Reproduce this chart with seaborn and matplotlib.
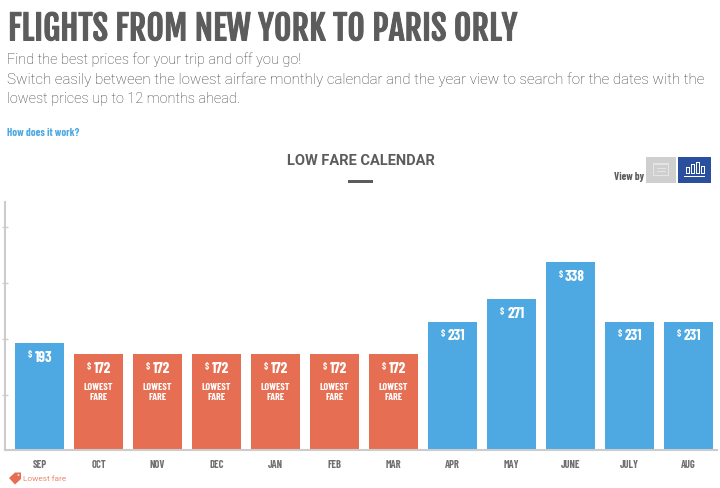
import pandas as pd
import numpy as np
import matplotlib.pyplot as plt
import seaborn as sns
import matplotlib.patheffects as pe
from matplotlib.patches import Rectangle, Polygon, Circle
from matplotlib import font_manager

months = ["SEP", "OCT", "NOV", "DEC", "JAN", "FEB", "MAR", "APR", "MAY", "JUNE", "JULY", "AUG"]
prices = [193, 172, 172, 172, 172, 172, 172, 231, 271, 338, 231, 231]
y_ticks = [100, 200, 300, 400]

title = "FLIGHTS FROM NEW YORK TO PARIS ORLY"
intro = ["Find the best prices for your trip and off you go!",
         "Switch easily between the lowest airfare monthly calendar and the year view to search for the dates with the",
         "lowest prices up to 12 months ahead."]

BLUE = "#4EA9E3"
RED = "#E66F53"
GREY = "#5C5C5C"
W, H = 720, 489

names = {f.name for f in font_manager.fontManager.ttflist}


def pick(options):
    for n in options:
        if n in names:
            return n
    return "Liberation Sans"


head = pick(["Fjalla One", "Barlow Condensed", "Roboto Condensed"])
narrow = pick(["Barlow Condensed", "Roboto Condensed", "Archivo Narrow"])

sns.set_theme(style="white")
plt.rcParams['font.family'] = ['Roboto', 'DejaVu Sans']

df = pd.DataFrame({"month": months, "price": prices})
df["kind"] = np.where(df["price"] == df["price"].min(), "low", "normal")

fig = plt.figure(figsize=(7.2, 4.89), dpi=100)
ax = fig.add_axes([5 / W, 1 - 451.3 / H, 712 / W, 248 / H])
sns.barplot(data=df, x="month", y="price", hue="kind", order=months, dodge=False, width=0.83, saturation=1,
            palette={"low": RED, "normal": BLUE}, legend=False, linewidth=0, ax=ax)

ax.set_xlim(-0.585, 11.48)
ax.set_ylim(0, 445)
ax.set_yticks(y_ticks)
ax.set_yticklabels([])
ax.set_xlabel("")
ax.set_ylabel("")
ax.tick_params(axis="y", left=True, length=5, width=1, color="#d0d0d0", direction="inout")
ax.tick_params(axis="x", length=0, pad=6)
for lab in ax.get_xticklabels():
    lab.set_fontfamily(narrow)
    lab.set_fontsize(7.5)
    lab.set_fontweight("bold")
    lab.set_color("#707070")
sns.despine(ax=ax, top=True, right=True)
for s in ["left", "bottom"]:
    ax.spines[s].set_color("#cccccc")
    ax.spines[s].set_linewidth(1.5)

# labels on the bars
for i, p in enumerate(prices):
    ax.text(i - 0.16, p - 20, "$", color="white", fontsize=7, fontweight="bold", family=narrow, ha="center", va="center")
    ax.text(i + 0.07, p - 25, str(p), color="white", fontsize=11, fontweight="bold", family=narrow, ha="center", va="center")
    if p == min(prices):
        ax.text(i, p - 66, "LOWEST\nFARE", color="white", fontsize=7.2, fontweight="bold", family=narrow,
                ha="center", va="center", linespacing=1.2)


def ftext(x, y, s, width=None, **kw):
    t = fig.text(x / W, 1 - y / H, s, va="center", **kw)
    if width:
        # scale the font so the text spans the same pixels as the reference
        ext = t.get_window_extent(fig.canvas.get_renderer())
        t.set_fontsize(t.get_fontsize() * width / ext.width)
    return t


def frect(x, y, w, h, c):
    fig.add_artist(Rectangle((x / W, 1 - (y + h) / H), w / W, h / H, transform=fig.transFigure, color=c, lw=0))


# header
t = ftext(8, 30, title, width=508, fontsize=28, family=head, color=GREY)
t.set_path_effects([pe.withStroke(linewidth=0.7, foreground=GREY)])
for k, line in enumerate(intro):
    ftext(7, 60 + k * 19.5, line, width=[295, 702, 234][k], fontsize=10.5, fontweight="light", color="#3C3C3C")
ftext(7, 133.5, "How does it work?", width=73, fontsize=8, fontweight="bold", family=narrow, color=BLUE)

ftext(360.5, 161, "LOW FARE CALENDAR", width=147, fontsize=10.4, fontweight="bold", color=GREY, ha="center")
frect(348, 181, 25, 3, GREY)

# view switch
ftext(614, 177, "View by", width=30, fontsize=8, fontweight="bold", family=narrow, color=GREY)
frect(646, 158, 30, 26, "#CFCFCF")
frect(678, 158, 33, 26, "#2A4F9F")
frect(653, 164, 16, 13, "#E4E4E4")
frect(654, 166, 14, 10, "#CFCFCF")
frect(657, 169, 9, 1, "#E4E4E4")
frect(657, 172, 9, 1, "#E4E4E4")
frect(684, 177, 21, 1, "white")
for bx, bt in [(686, 168), (691, 165), (696, 163), (701, 167)]:
    frect(bx, bt, 1, 175 - bt, "white")
    frect(bx + 3, bt, 1, 175 - bt, "white")
    frect(bx, bt, 4, 1, "white")
    frect(bx, 174, 4, 1, "white")

# lowest fare key
pts = [(9, 479), (15, 473.5), (21, 473.5), (21, 480), (15, 485.5)]
fig.add_artist(Polygon([(a / W, 1 - b / H) for a, b in pts], transform=fig.transFigure, color=RED, lw=0))
fig.add_artist(Circle((18.5 / W, 1 - 476 / H), 0.0015, transform=fig.transFigure, color="white", lw=0))
ftext(23, 479, "Lowest fare", width=43, fontsize=6.5, color="#EE8A72")

plt.savefig("out.png", dpi=100)
